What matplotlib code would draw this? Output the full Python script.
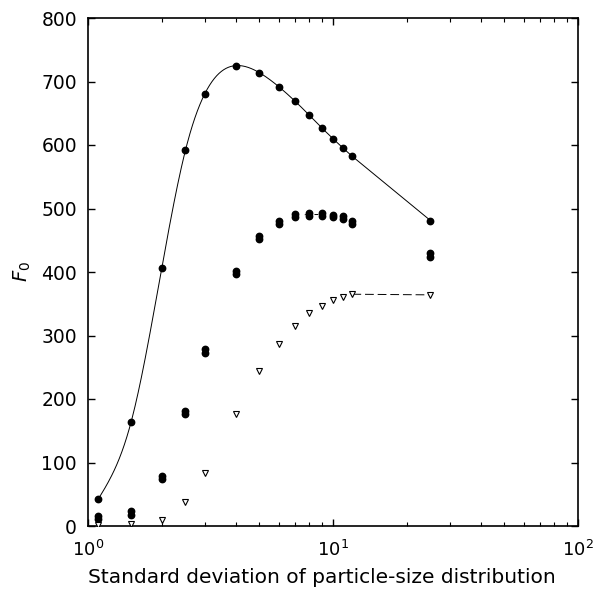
import numpy as np
import matplotlib
matplotlib.use("Agg")
import matplotlib.pyplot as plt
from matplotlib.ticker import LogLocator, NullFormatter, MultipleLocator

plt.rcParams['font.family'] = ['DejaVu Sans']
plt.rcParams['mathtext.fontset'] = 'dejavusans'

# Standard deviation of particle-size distribution
sigma = [1.1, 1.5, 2, 2.5, 3, 4, 5, 6, 7, 8, 9, 10, 11, 12, 25]
# upper series (filled circles, with fitted curve)
f_top = [42, 164, 406, 592, 681, 725, 714, 692, 669, 647, 627, 610, 595, 582, 481]
# middle pair of series (filled circles, overlapping)
f_mid_a = [16, 23, 79, 181, 278, 401, 457, 480, 492, 493, 493, 490, 488, 481, 430]
f_mid_b = [11, 18, 74, 176, 273, 397, 452, 475, 487, 488, 488, 486, 483, 476, 424]
# lower series (open down-triangles)
f_tri = [1, 3, 10, 38, 83, 176, 244, 287, 315, 335, 347, 356, 361, 365, 364]


def natural_spline(xs, ys, n=40):
    x = np.log10(np.asarray(xs, float))
    y = np.asarray(ys, float)
    m = len(x)
    h = np.diff(x)
    A = np.zeros((m, m))
    r = np.zeros(m)
    A[0, 0] = A[-1, -1] = 1
    for i in range(1, m - 1):
        A[i, i - 1] = h[i - 1]
        A[i, i] = 2 * (h[i - 1] + h[i])
        A[i, i + 1] = h[i]
        r[i] = 3 * ((y[i + 1] - y[i]) / h[i] - (y[i] - y[i - 1]) / h[i - 1])
    c = np.linalg.solve(A, r)
    px, py = [], []
    for i in range(m - 1):
        b = (y[i + 1] - y[i]) / h[i] - h[i] * (2 * c[i] + c[i + 1]) / 3
        d = (c[i + 1] - c[i]) / (3 * h[i])
        t = np.linspace(0, h[i], n)
        px.append(x[i] + t)
        py.append(y[i] + b * t + c[i] * t ** 2 + d * t ** 3)
    return 10 ** np.concatenate(px), np.concatenate(py)


fig = plt.figure(figsize=(5.97, 5.99), dpi=100)
ax = fig.add_axes([88 / 597, 1 - 526 / 599, 490 / 597, 508 / 599])

# fitted curve for upper series (smooth up to 12, straight to 25)
cx, cy = natural_spline(sigma[:-1], f_top[:-1])
ax.plot(cx, cy, color='black', lw=0.7, zorder=2)
ax.plot(sigma[-2:], f_top[-2:], color='black', lw=0.7, zorder=2)
ax.plot(sigma, f_top, linestyle='none', marker='o', ms=4.6, color='black', zorder=3)

# middle pair
ax.plot(sigma[8:11], [(a + b) / 2 for a, b in zip(f_mid_a[8:11], f_mid_b[8:11])],
        color='black', lw=0.7, ls=(0, (4, 6)), zorder=2)
ax.plot(sigma, f_mid_a, linestyle='none', marker='o', ms=4.6, color='black', zorder=3)
ax.plot(sigma, f_mid_b, linestyle='none', marker='o', ms=4.6, color='black', zorder=3)

# lower triangles
ax.plot(sigma[-2:], f_tri[-2:], color='black', lw=0.7, ls=(0, (9, 4)), zorder=2)
ax.plot(sigma, f_tri, linestyle='none', marker='v', ms=5, mfc='white', mec='black',
        mew=0.8, zorder=3)

ax.set_xscale('log')
ax.set_xlim(1, 100)
ax.set_ylim(0, 800)
ax.yaxis.set_major_locator(MultipleLocator(100))
ax.xaxis.set_major_locator(LogLocator(base=10, numticks=5))
ax.xaxis.set_minor_locator(LogLocator(base=10, subs=np.arange(2, 10), numticks=20))
ax.xaxis.set_minor_formatter(NullFormatter())

ax.tick_params(which='both', direction='in', top=True, right=True, color='black')
ax.tick_params(which='major', length=5, width=1.0)
ax.tick_params(which='minor', length=3, width=0.8)
ax.tick_params(axis='y', labelsize=13.5, pad=8)
ax.tick_params(axis='x', labelsize=13, pad=10)
for s in ax.spines.values():
    s.set_linewidth(1.2)

ax.set_xlabel('Standard deviation of particle-size distribution', fontsize=14.5)
ax.xaxis.set_label_coords(0.477, -0.083)
ax.set_ylabel(r'$\mathit{F}_{0}$', fontsize=14, labelpad=6)

fig.savefig('out.png', dpi=100)
